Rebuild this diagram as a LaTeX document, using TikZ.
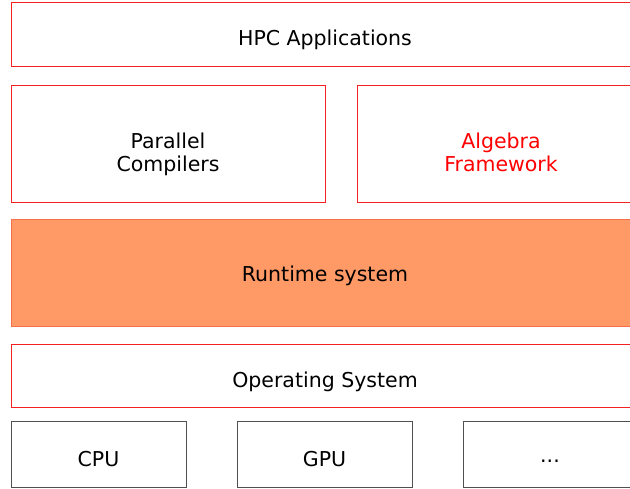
\documentclass[tikz,border=0pt]{standalone}
\usepackage{fontspec}
\setmainfont{DejaVu Sans}
\definecolor{boxred}{HTML}{F52020}
\definecolor{rtfill}{HTML}{FF9966}
\definecolor{rtline}{HTML}{F5704A}
\definecolor{hwline}{HTML}{505050}
\begin{document}
\begin{tikzpicture}[x=1pt,y=-1pt,
  layer/.style={draw=boxred,line width=1pt,fill=white},
  runtime/.style={draw=rtline,line width=1pt,fill=rtfill},
  hw/.style={draw=hwline,line width=1pt,fill=white},
  lbl/.style={font=\fontsize{20.5}{23.6}\selectfont,align=center,inner sep=0pt,anchor=base}]
\useasboundingbox (0,0) rectangle (630,489);
\clip (0,0) rectangle (630,489);
\draw[layer] (11,3) rectangle (645,67);
\node[lbl] (hpc) at (325,46) {HPC Applications};
\draw[layer] (11,86) rectangle (325,203);
\node[lbl] (pc) at (168,171.9) {Parallel\\Compilers};
\draw[layer] (357,86) rectangle (645,203);
\node[lbl,text=red] (alg) at (501,171.9) {Algebra\\Framework};
\draw[runtime] (11,220) rectangle (645,327);
\node[lbl] (rt) at (325,281.7) {Runtime system};
\draw[layer] (11,345) rectangle (645,408);
\node[lbl] (os) at (325,387.7) {Operating System};
\draw[hw] (11,422) rectangle (186,487);
\node[lbl] (cpu) at (98.5,466) {CPU};
\draw[hw] (237,422) rectangle (412,487);
\node[lbl] (gpu) at (324.5,466) {GPU};
\draw[hw] (463,422) rectangle (645,487);
\node[lbl] (dots) at (550,462) {...};
\end{tikzpicture}
\end{document}
